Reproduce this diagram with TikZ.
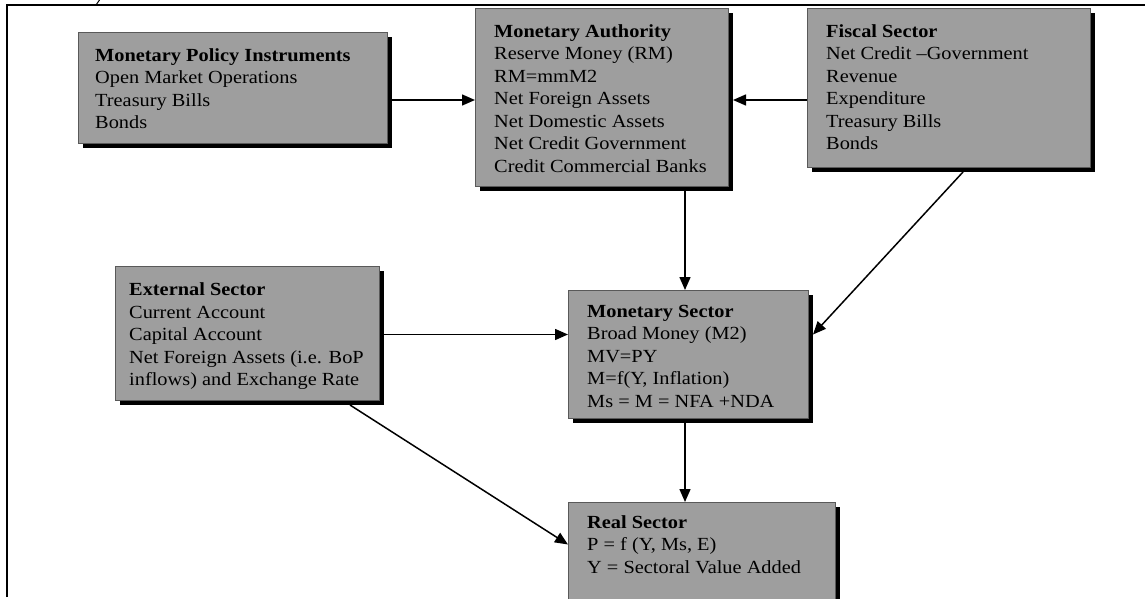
\documentclass[tikz,border=0pt]{standalone}
\usepackage{fontspec}
\setmainfont{Liberation Serif}[FakeStretch=1.1]
\usetikzlibrary{arrows.meta,calc}
\begin{document}
\begin{tikzpicture}[x=1pt,y=-1pt,
  box/.style={draw=black!65, line width=0.5pt, fill=black!38, anchor=north west, inner sep=0pt, outer sep=0pt},
  shadowbar/.style={fill=black},
  txt/.style={anchor=north west, inner sep=0pt, align=left, font=\fontsize{18.5}{22.5}\selectfont},
  arr/.style={line width=1.5pt, -{Triangle[length=13pt,width=11pt]}},
  framestyle/.style={line width=1.6pt}]
\useasboundingbox (0,0) rectangle (1145,599);
\coordinate (r1) at (0,100);
\coordinate (r2) at (0,334.5);
\coordinate (r3) at (0,544.5);
\coordinate (cx) at (685,0);

% frame
\draw[framestyle] (7,597) |- (1145,5);
\draw[line width=1pt] (96,5) -- (99.5,0);

% Monetary Policy Instruments
\fill[shadowbar] (83,37) rectangle (392,148);
\node[box, minimum width=309pt, minimum height=111pt] (mpi) at (78,32) {};
\node[txt] (mpit) at (95,48) {\textbf{Monetary Policy Instruments}\\Open Market Operations\\Treasury Bills\\Bonds};

% Monetary Authority
\fill[shadowbar] (480,13) rectangle (733,191);
\node[box, minimum width=253pt, minimum height=178pt] (ma) at (475,8) {};
\node[txt] (mat) at (494,24) {\textbf{Monetary Authority}\\Reserve Money (RM)\\RM=mmM2\\Net Foreign Assets\\Net Domestic Assets\\Net Credit Government\\Credit Commercial Banks};

% Fiscal Sector
\fill[shadowbar] (812,13) rectangle (1095,172);
\node[box, minimum width=283pt, minimum height=159pt] (fs) at (807,8) {};
\node[txt] (fst) at (826,24) {\textbf{Fiscal Sector}\\Net Credit --Government\\Revenue\\Expenditure\\Treasury Bills\\Bonds};

% External Sector
\fill[shadowbar] (120,271) rectangle (384,405);
\node[box, minimum width=264pt, minimum height=134pt] (ext) at (115,266) {};
\node[txt] (extt) at (129,282.5) {\textbf{External Sector}\\Current Account\\Capital Account\\Net Foreign Assets (i.e. BoP\\inflows) and Exchange Rate};

% Monetary Sector
\fill[shadowbar] (573,295) rectangle (813,423);
\node[box, minimum width=240pt, minimum height=128pt] (ms) at (568,290) {};
\node[txt] (mst) at (587,305) {\textbf{Monetary Sector}\\Broad Money (M2)\\MV=PY\\M=f(Y, Inflation)\\Ms = M = NFA +NDA};

% Real Sector
\fill[shadowbar] (573,507) rectangle (840,610);
\node[box, minimum width=267pt, minimum height=104pt] (rs) at (568,502) {};
\node[txt] (rst) at (587,515) {\textbf{Real Sector}\\P = f (Y, Ms, E)\\Y = Sectoral Value Added};

% connectors
\draw[arr] ($(mpi.east|-r1)+(5,0)$) -- (ma.west|-r1);
\draw[arr] (fs.west|-r1) -- ($(ma.east|-r1)+(5,0)$);
\draw[arr] ($(ma.south-|cx)+(0,5)$) -- (ms.north-|cx);
\draw[arr] ($(ms.south-|cx)+(0,5)$) -- (rs.north-|cx);
\draw[arr] ($(ext.east|-r2)+(5,0)$) -- (ms.west|-r2);
\draw[arr] ($(fs.south west)+(156,5)$) -- ($(ms.east|-r2)+(5,0)$);
\draw[arr] ($(ext.south west)+(235,5)$) -- (rs.west|-r3);
\end{tikzpicture}
\end{document}
